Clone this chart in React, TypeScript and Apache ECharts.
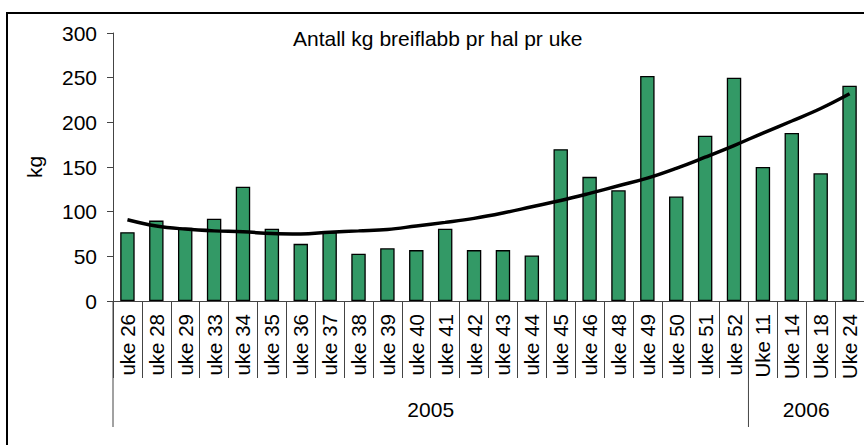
import React, { useEffect, useRef } from "react";
import * as echarts from "echarts";

const weeks = [
  "uke 26", "uke 28", "uke 29", "uke 33", "uke 34", "uke 35", "uke 36", "uke 37",
  "uke 38", "uke 39", "uke 40", "uke 41", "uke 42", "uke 43", "uke 44", "uke 45",
  "uke 46", "uke 48", "uke 49", "uke 50", "uke 51", "uke 52",
  "Uke 11", "Uke 14", "Uke 18", "Uke 24",
];
const years = ["2005", "2006"];
const weeksPerYear = [22, 4];
const kg = [77, 90, 82, 92, 128, 81, 64, 77, 53, 59, 57, 81, 57, 57, 51, 170, 139, 124, 252, 117, 185, 250, 150, 188, 143, 241];
const trend = [91, 84, 80.5, 78.5, 77.5, 75.5, 75, 77, 78.5, 80, 84, 88, 92.5, 98.5, 105.5, 112.5, 120.5, 129, 137.5, 148.5, 161, 174, 188, 201.5, 215.5, 232];
const yMin = 0;
const yMax = 300;
const yStep = 50;
const titleText = "Antall kg breiflabb pr hal pr uke";
const yName = "kg";

const FONT = "'Liberation Sans', Arial, Helvetica, sans-serif";
const AXIS = "#444444";

export default function App() {
  const ref = useRef<HTMLDivElement>(null);
  useEffect(() => {
    document.body.style.margin = "0";
    const chart = echarts.init(ref.current!, null, { renderer: "svg" });
    chart.setOption({
      animation: false,
      textStyle: { fontFamily: FONT },
      grid: { left: 113, top: 33, width: 752, height: 268, containLabel: false },
      xAxis: {
        type: "category",
        data: weeks,
        axisLine: { lineStyle: { color: AXIS, width: 1 } },
        axisTick: { show: true, interval: 0, length: 77, lineStyle: { color: AXIS, width: 1 } },
        axisLabel: { interval: 0, rotate: 90, margin: 13, fontSize: 20.5, color: "#000", fontFamily: FONT },
        splitLine: { show: false },
      },
      yAxis: {
        type: "value",
        min: yMin,
        max: yMax,
        interval: yStep,
        name: yName,
        nameLocation: "middle",
        nameGap: 68,
        nameTextStyle: { fontSize: 21, color: "#000", fontFamily: FONT },
        axisLine: { show: true, lineStyle: { color: AXIS, width: 1 } },
        axisTick: { show: true, inside: false, length: 6, lineStyle: { color: AXIS } },
        axisLabel: { margin: 16, fontSize: 21, color: "#000", fontFamily: FONT },
        splitLine: { show: false },
      },
      series: [
        {
          type: "bar",
          data: kg,
          barWidth: "50%",
          itemStyle: { color: "#339966", borderColor: "#000", borderWidth: 1.3 },
        },
        {
          type: "line",
          data: trend,
          smooth: 0.4,
          symbol: "none",
          lineStyle: { color: "#000", width: 3.5 },
          z: 5,
        },
      ],
    });

    const x0 = chart.convertToPixel({ xAxisIndex: 0 }, 0) as number;
    const x1 = chart.convertToPixel({ xAxisIndex: 0 }, 1) as number;
    const band = x1 - x0;
    const axisY = chart.convertToPixel({ yAxisIndex: 0 }, yMin) as number;
    const graphics: any[] = [
      {
        type: "rect",
        shape: { x: 7, y: 13, width: 900, height: 460 },
        style: { fill: "none", stroke: "#000", lineWidth: 2 },
        silent: true,
      },
      {
        type: "text",
        x: 293,
        y: 38.5,
        style: { text: titleText, fontSize: 21, fill: "#000", fontFamily: FONT, align: "left", verticalAlign: "middle" },
      },
    ];
    let start = 0;
    const bounds: number[] = [];
    weeksPerYear.forEach((n, i) => {
      const left = (chart.convertToPixel({ xAxisIndex: 0 }, start) as number) - band / 2;
      const right = left + n * band;
      bounds.push(left);
      graphics.push({
        type: "text",
        x: (left + right) / 2,
        y: 409.5,
        style: { text: years[i], fontSize: 21, fill: "#000", fontFamily: FONT, align: "center", verticalAlign: "middle" },
      });
      start += n;
    });
    bounds.forEach((bx) => {
      graphics.push({
        type: "line",
        shape: { x1: bx, y1: axisY, x2: bx, y2: axisY + 126 },
        style: { stroke: AXIS, lineWidth: 1 },
      });
    });
    chart.setOption({ graphic: graphics });

    return () => chart.dispose();
  }, []);
  return <div ref={ref} style={{ position: "absolute", left: 0, top: 0, width: 864, height: 445 }} />;
}
